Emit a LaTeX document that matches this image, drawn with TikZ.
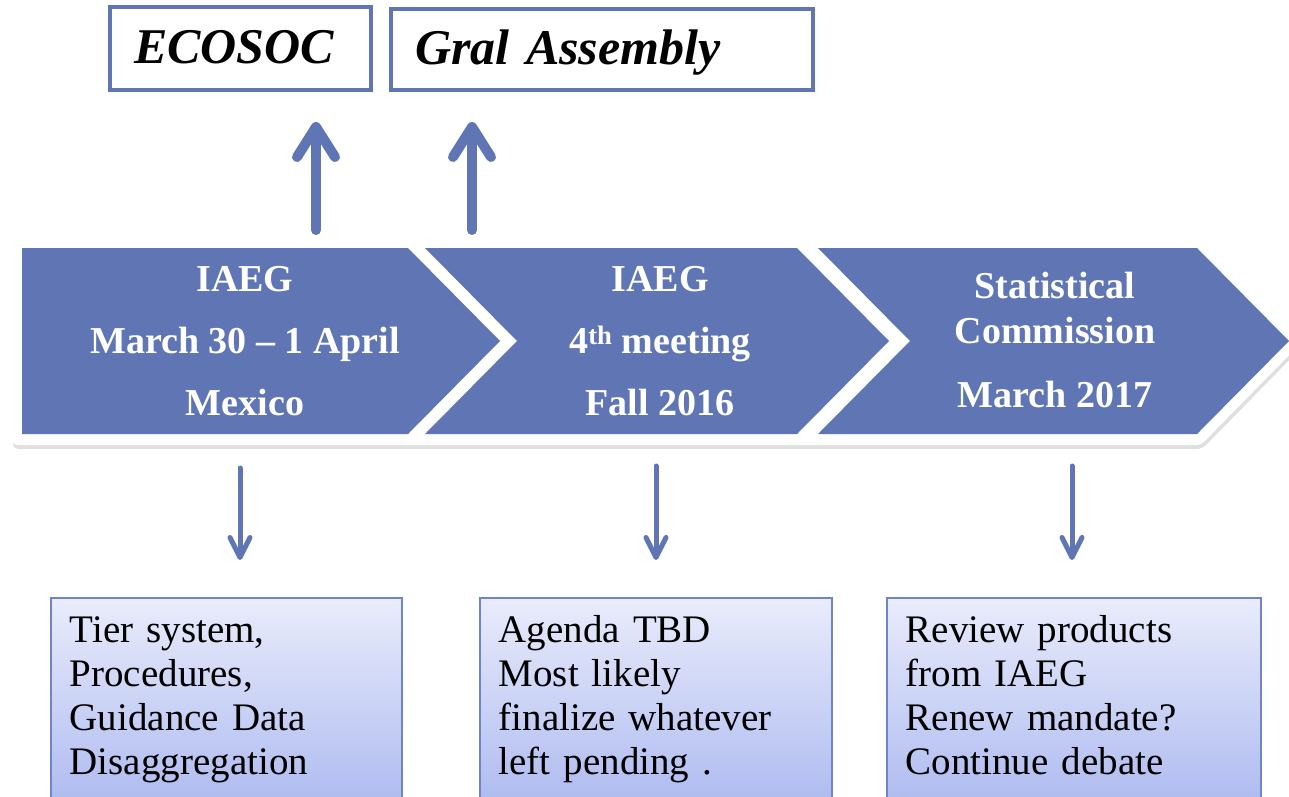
\documentclass[tikz,border=0pt]{standalone}
\usepackage{fontspec}
\setmainfont{Liberation Serif}
\usetikzlibrary{arrows.meta,shadows}
\definecolor{unblue}{RGB}{96,118,180}
\definecolor{boxtop}{RGB}{233,236,251}
\definecolor{boxbot}{RGB}{166,180,238}
\definecolor{boxline}{RGB}{112,132,200}
\newcommand\boxtopstrut{\rule{0pt}{28pt}}
\newcommand\boxbotstrut{\rule[-40pt]{0pt}{1pt}}
\begin{document}
\begin{tikzpicture}[x=1pt,y=-1pt,
  topbox/.style={draw=unblue, line width=4pt, fill=white, inner xsep=24pt, inner ysep=0pt, align=left,
    text height=40pt, text depth=10pt, font=\fontsize{50}{54}\selectfont\bfseries\itshape},
  chev/.style={fill=unblue},
  chevtext/.style={text=white, align=center, font=\fontsize{38}{62}\selectfont\bfseries},
  infobox/.style={draw=boxline, line width=1.5pt, top color=boxtop, bottom color=boxbot,
    inner xsep=19pt, inner ysep=17pt, anchor=north west, align=left, font=\fontsize{39}{44}\selectfont},
  uparrow/.style={draw=unblue, line width=10pt, line cap=round, -{Straight Barb[length=30pt,width=38pt,round]}},
  downarrow/.style={draw=unblue, line width=5pt, line cap=round, -{Straight Barb[length=20pt,width=20pt,round]}},
]
\clip (0,0) rectangle (1289,796);
\fill[white] (0,0) rectangle (1289,796);

% white backing band with shadow
\path[fill=white, rounded corners=5pt, drop shadow={shadow xshift=1pt, shadow yshift=-4pt, opacity=0.25}]
  (12,238) -- (1201,238) -- (1303,341) -- (1201,445) -- (12,445) -- cycle;

% chevrons
\fill[chev] (22,248) -- (408,248) -- (500,341) -- (408,434) -- (22,434) -- cycle;
\fill[chev] (425,248) -- (797,248) -- (889,341) -- (797,434) -- (425,434) -- (517,341) -- cycle;
\fill[chev] (818,248) -- (1197,248) -- (1289,341) -- (1197,434) -- (818,434) -- (910,341) -- cycle;

\node[chevtext] (c1) at (245,341) {IAEG\\March 30 – 1 April\\Mexico};
\node[chevtext] (c2) at (660,341) {IAEG\\4\textsuperscript{th} meeting\\Fall 2016};
\node[chevtext, font=\fontsize{38}{45}\selectfont\bfseries] (c3) at (1055,340) {Statistical\\Commission\\[19pt]March 2017};

% top boxes
\node[topbox, minimum width=261pt, minimum height=83pt, text width=213pt] (eco) at (240.5,48.5) {ECOSOC};
\node[topbox, minimum width=422pt, minimum height=81pt, text width=374pt] (gen) at (602,49.5) {Gral Assembly};

% up arrows
\coordinate (u1s) at (316,230); \coordinate (u1e) at (316,122);
\coordinate (u2s) at (472,230); \coordinate (u2e) at (472,122);
\draw[uparrow] (u1s) -- (u1e);
\draw[uparrow] (u2s) -- (u2e);

% bottom boxes
\node[infobox, minimum width=351pt, text width=313pt] (b1) at (50,597)
  {\boxtopstrut Tier system,\\Procedures,\\Guidance Data\\Disaggregation\boxbotstrut};
\node[infobox, minimum width=352pt, text width=314pt] (b2) at (479,597)
  {\boxtopstrut Agenda TBD\\Most likely\\finalize whatever\\left pending .\boxbotstrut};
\node[infobox, minimum width=374pt, text width=336pt] (b3) at (886,597)
  {\boxtopstrut Review products\\from IAEG\\Renew mandate?\\Continue debate\boxbotstrut};

% down arrows
\coordinate (d1s) at (240,468); \coordinate (d1e) at (240,560);
\coordinate (d2s) at (656,466); \coordinate (d2e) at (656,560);
\coordinate (d3s) at (1072,466); \coordinate (d3e) at (1072,560);
\draw[downarrow] (d1s) -- (d1e);
\draw[downarrow] (d2s) -- (d2e);
\draw[downarrow] (d3s) -- (d3e);
\end{tikzpicture}
\end{document}
